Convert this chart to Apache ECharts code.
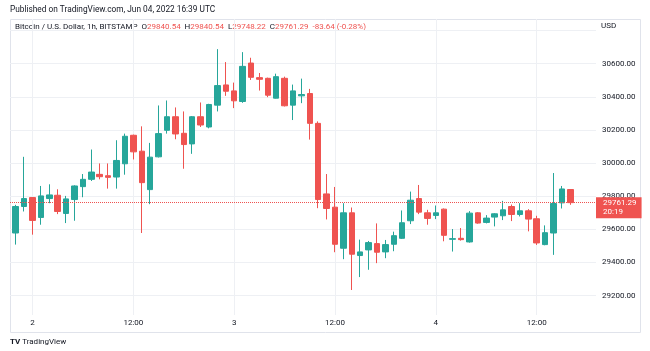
<!DOCTYPE html>
<html>
<head>
<meta charset="utf-8">
<script src="https://cdn.jsdelivr.net/npm/echarts@6/dist/echarts.min.js"></script>
<style>
html,body{margin:0;padding:0;background:#fff}
#main{width:650px;height:351px}
</style>
</head>
<body>
<div id="main"></div>
<script>
// hours counted from Jun 2 00:00 UTC (1h candles, BTC/USD Bitstamp)
var hours = [-2,-1,0,1,2,3,4,5,6,7,8,9,10,11,12,13,14,15,16,17,18,19,20,21,22,23,24,25,26,27,28,29,30,31,32,33,34,35,36,37,38,39,40,41,42,43,44,45,46,47,48,49,50,51,52,53,54,55,56,57,58,59,60,61,62,63,64];
var opens  = [29578,29738,29792,29672,29786,29806,29696,29780,29858,29902,29932,29924,29916,29996,30168,30072,29840,30038,30198,30280,30180,30116,30280,30218,30350,30472,30436,30372,30604,30516,30512,30392,30512,30350,30406,30420,30240,29814,29734,29486,29700,29442,29476,29514,29464,29510,29546,29652,29786,29700,29684,29722,29540,29546,29524,29700,29642,29674,29682,29738,29690,29712,29664,29508,29578,29760,29840.54];
var closes = [29738,29786,29654,29802,29808,29708,29784,29862,29902,29946,29918,29914,30016,30162,30068,29882,30036,30178,30280,30176,30112,30280,30230,30354,30468,30434,30376,30584,30518,30506,30410,30522,30346,30436,30414,30240,29780,29726,29510,29700,29450,29464,29520,29462,29508,29562,29640,29776,29704,29666,29700,29564,29544,29538,29698,29638,29668,29694,29718,29690,29712,29662,29518,29580,29756,29844,29761.29];
var lows   = [29508,29708,29568,29628,29758,29692,29638,29652,29794,29892,29902,29846,29846,29930,30022,29578,29752,30034,30178,30144,29966,30056,30218,30210,30312,30406,30332,30364,30502,30438,30398,30390,30342,30260,30362,30142,29728,29660,29462,29420,29234,29312,29356,29396,29426,29468,29542,29632,29692,29628,29662,29528,29466,29532,29520,29634,29636,29618,29656,29650,29678,29588,29506,29504,29446,29726,29748.22];
var highs  = [29748,30038,29794,29862,29872,29842,29802,29866,29934,30082,29998,29998,30138,30178,30172,30222,30122,30348,30378,30336,30312,30284,30366,30358,30688,30610,30486,30670,30636,30544,30516,30540,30522,30474,30510,30448,30252,29934,29856,29758,29732,29538,29530,29636,29536,29586,29714,29828,29868,29718,29744,29726,29602,29608,29710,29704,29686,29698,29772,29750,29758,29722,29682,29624,29940,29862,29840.54];

var timeTicks = [0, 12, 24, 36, 48, 60];
var timeLabels = ['2', '12:00', '3', '12:00', '4', '12:00'];
var priceTicks = [29200, 29400, 29600, 29800, 30000, 30200, 30400, 30600, 30800];
var priceLabels = [29200, 29400, 29600, 29800, 30000, 30200, 30400, 30600];
var lastPrice = 29761.29;

var up = '#26a69a', down = '#ef5350';
var font = 'Roboto, sans-serif';

var candles = hours.map(function (h, i) {
    return [h, opens[i], closes[i], lows[i], highs[i]];
});

var chart = echarts.init(document.getElementById('main'));

option = {
    animation: false,
    textStyle: {fontFamily: font},
    grid: {left: 10, right: 54, top: 19, bottom: 36, show: false},
    xAxis: {
        type: 'value',
        min: -2.68,
        max: 67.06,
        axisLine: {show: false},
        axisTick: {show: false, customValues: timeTicks},
        axisLabel: {
            customValues: timeTicks,
            margin: 4,
            color: '#131722',
            fontSize: 8,
            formatter: function (v) { return timeLabels[timeTicks.indexOf(v)]; }
        },
        splitLine: {show: true, lineStyle: {color: '#eef0f4', width: 1}}
    },
    yAxis: {
        type: 'value',
        position: 'right',
        min: 29083,
        max: 30870,
        axisLine: {show: false},
        axisTick: {show: false, customValues: priceTicks},
        axisLabel: {
            customValues: priceLabels,
            margin: 6,
            color: '#131722',
            fontSize: 8,
            formatter: function (v) { return v.toFixed(2); }
        },
        splitLine: {show: true, lineStyle: {color: '#eef0f4', width: 1}}
    },
    series: [{
        type: 'candlestick',
        data: candles,
        encode: {x: 0, y: [1, 2, 3, 4]},
        barWidth: 6,
        clip: true,
        itemStyle: {
            color: up,
            color0: down,
            borderColor: up,
            borderColor0: down,
            borderColorDoji: up,
            borderWidth: 1
        },
        markLine: {
            silent: true,
            symbol: ['none', 'none'],
            lineStyle: {color: down, type: 'dotted', width: 1},
            label: {
                show: true,
                position: 'end',
                distance: 0,
                offset: [0, 5],
                formatter: lastPrice.toFixed(2) + '\n20:19',
                color: '#fff',
                backgroundColor: down,
                fontSize: 8,
                lineHeight: 9.5,
                padding: [1, 5, 1, 7]
            },
            data: [{yAxis: lastPrice}]
        }
    }],
    graphic: [
        {type: 'rect', silent: true, z: -1,
         shape: {x: 10.5, y: 19.5, width: 630, height: 313},
         style: {fill: 'none', stroke: '#e0e3eb', lineWidth: 1}},
        {type: 'text', left: 10, top: 6,
         style: {text: 'Published on TradingView.com, Jun 04, 2022 16:39 UTC', font: '8.3px ' + font, fill: '#131722'}},
        {type: 'text', left: 15, top: 23,
         style: {
            text: 'Bitcoin / U.S. Dollar, 1h, BITSTAMP  O{r|29840.54}  H{r|29840.54}  L{r|29748.22}  C{r|29761.29}  {r|-83.64 (-0.28%)}',
            font: '8px ' + font, fill: '#131722',
            rich: {r: {fill: down, font: '8px ' + font}}
         }},
        {type: 'text', left: 601, top: 22,
         style: {text: 'USD', font: '8px ' + font, fill: '#131722'}},
        {type: 'text', left: 10, top: 338,
         style: {
            text: '{b|TV} TradingView',
            font: '8px ' + font, fill: '#131722',
            rich: {b: {font: 'bold 8px ' + font, fill: '#131722'}}
         }}
    ]
};

chart.setOption(option);
</script>
</body>
</html>
